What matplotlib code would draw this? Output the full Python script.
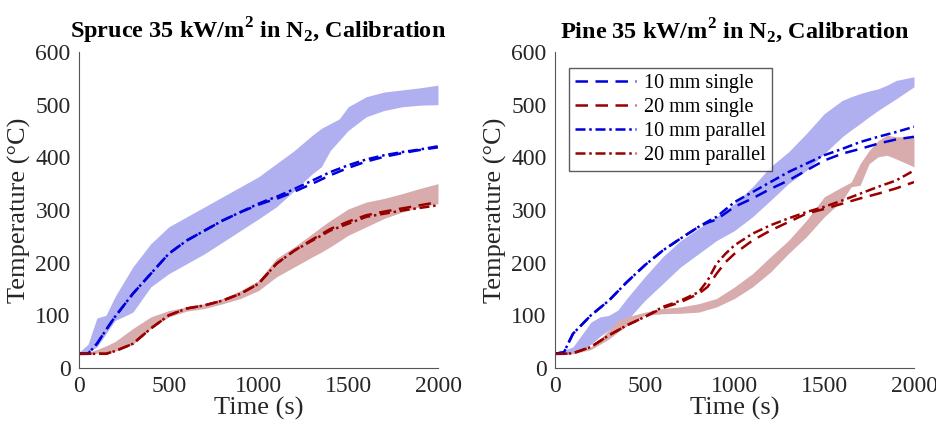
import matplotlib.pyplot as plt

plt.rcParams['font.family'] = ['Liberation Serif', 'DejaVu Serif']
plt.rcParams['mathtext.fontset'] = 'custom'
plt.rcParams['mathtext.rm'] = 'Liberation Serif'
plt.rcParams['mathtext.bf'] = 'Liberation Serif:bold'

# Spruce (left panel)
sp_band_t = [0, 50, 100, 150, 200, 300, 400, 500, 600, 700, 800, 900, 1000, 1100, 1200,
             1300, 1350, 1400, 1450, 1500, 1600, 1700, 1800, 1900, 2000]
sp10_hi = [30, 45, 95, 100, 135, 192, 236, 268, 287, 306, 325, 344, 363, 388, 413,
           442, 455, 464, 473, 496, 515, 524, 528, 532, 537]
sp10_lo = [25, 30, 40, 65, 90, 106, 154, 179, 198, 217, 239, 261, 283, 306, 337,
           369, 382, 413, 432, 451, 477, 489, 496, 499, 500]
sp20_hi = [28, 30, 35, 42, 50, 75, 97, 109, 116, 122, 132, 147, 166, 208, 230,
           255, 268, 280, 291, 302, 315, 322, 331, 341, 350]
sp20_lo = [25, 26, 28, 30, 32, 45, 75, 97, 108, 113, 122, 132, 147, 173, 192,
           211, 220, 230, 241, 252, 268, 284, 296, 306, 312]

sp_line_t = [0, 50, 100, 150, 200, 300, 400, 500, 600, 700, 800, 900, 1000, 1050, 1100,
             1200, 1300, 1400, 1500, 1600, 1700, 1800, 1900, 2000]
sp10_single = [27, 27, 46, 72, 97, 141, 179, 217, 242, 261, 280, 296, 310, 316, 321,
               335, 350, 366, 380, 392, 401, 408, 414, 419]
sp10_par = [27, 27, 46, 72, 97, 141, 179, 217, 242, 261, 280, 296, 312, 319, 325,
            340, 356, 372, 385, 396, 404, 410, 415, 421]
sp20_single = [27, 27, 27, 27, 32, 46, 75, 100, 113, 119, 128, 141, 160, 179, 198,
               223, 244, 264, 278, 290, 297, 303, 309, 315]
sp20_par = [27, 27, 27, 27, 32, 46, 75, 100, 113, 119, 128, 141, 160, 179, 198,
            223, 242, 261, 274, 287, 293, 299, 304, 309]

# Pine (right panel)
pi_band_t = [0, 100, 200, 250, 300, 350, 400, 500, 600, 700, 800, 900, 1000, 1100, 1200,
             1300, 1400, 1500, 1600, 1650, 1700, 1750, 1800, 1850, 1900, 2000]
pi10_hi = [27, 40, 87, 97, 100, 110, 132, 173, 211, 242, 265, 287, 312, 344, 382,
           410, 445, 483, 508, 515, 521, 526, 530, 537, 546, 553]
pi10_lo = [25, 28, 45, 60, 72, 82, 90, 128, 160, 192, 217, 242, 261, 287, 318,
           350, 375, 407, 439, 452, 464, 477, 489, 500, 511, 534]
pi20_hi = [27, 30, 40, 55, 72, 90, 97, 106, 113, 116, 122, 132, 154, 179, 211,
           242, 280, 325, 344, 353, 388, 413, 432, 442, 439, 439]
pi20_lo = [25, 27, 35, 45, 55, 68, 80, 100, 103, 104, 106, 116, 132, 154, 182,
           217, 249, 287, 318, 344, 347, 388, 401, 404, 397, 382]

pi_line_t = [0, 50, 100, 200, 300, 400, 500, 600, 700, 800, 850, 900, 950, 1000, 1100,
             1200, 1300, 1400, 1500, 1600, 1700, 1800, 1900, 2000]
pi10_single = [27, 30, 65, 100, 128, 163, 195, 223, 246, 268, 276, 282, 294, 306, 322,
               340, 356, 375, 394, 407, 416, 426, 434, 439]
pi10_par = [27, 30, 65, 100, 128, 163, 195, 223, 246, 268, 278, 287, 301, 315, 334,
            353, 372, 388, 404, 416, 429, 439, 448, 458]
pi20_single = [27, 27, 28, 40, 62, 81, 97, 114, 125, 141, 154, 179, 201, 217, 242,
               261, 277, 293, 302, 312, 322, 331, 341, 353]
pi20_par = [27, 27, 28, 40, 62, 81, 97, 116, 128, 144, 166, 198, 217, 233, 255,
            271, 284, 296, 306, 318, 331, 344, 356, 375]

blue = '#0000dd'
red = '#990000'
blue_fill = '#b0b0f0'
red_fill = '#d8acac'

fig = plt.figure(figsize=(9.36, 4.29), dpi=100)
ax1 = fig.add_axes([79 / 936, 1 - 368 / 429, 359 / 936, 316 / 429])
ax2 = fig.add_axes([555 / 936, 1 - 368 / 429, 359 / 936, 316 / 429])


def draw_panel(ax, band_t, b10_lo, b10_hi, b20_lo, b20_hi, line_t, s10, s20, p10, p20, title):
    ax.fill_between(band_t, b10_lo, b10_hi, color=blue_fill, lw=0)
    ax.fill_between(band_t, b20_lo, b20_hi, color=red_fill, lw=0)
    ax.plot(line_t, s10, color=blue, lw=1.8, dashes=(5, 3), label='10 mm single')
    ax.plot(line_t, s20, color=red, lw=1.8, dashes=(5, 3), label='20 mm single')
    ax.plot(line_t, p10, color=blue, lw=1.8, dashes=(4, 1.5, 1, 1.5), label='10 mm parallel')
    ax.plot(line_t, p20, color=red, lw=1.8, dashes=(4, 1.5, 1, 1.5), label='20 mm parallel')
    ax.set_xlim(0, 2000)
    ax.set_ylim(0, 600)
    ax.set_xticks([0, 500, 1000, 1500, 2000])
    ax.set_yticks(range(0, 601, 100))
    ax.spines['top'].set_visible(False)
    ax.spines['right'].set_visible(False)
    for s in ('left', 'bottom'):
        ax.spines[s].set_color('#555555')
    ax.tick_params(direction='in', length=0, labelsize=17, colors='#262626', pad=6)
    ax.set_xlabel('Time (s)', fontsize=19, color='#262626', labelpad=0)
    ax.set_ylabel('Temperature (°C)', fontsize=19, color='#262626', labelpad=3)
    ax.set_title(title, fontsize=17.5, fontweight='bold', pad=10)


draw_panel(ax1, sp_band_t, sp10_lo, sp10_hi, sp20_lo, sp20_hi,
           sp_line_t, sp10_single, sp20_single, sp10_par, sp20_par,
           r'Spruce 35 kW/m$^\mathbf{2}$ in N$_\mathbf{2}$, Calibration')
draw_panel(ax2, pi_band_t, pi10_lo, pi10_hi, pi20_lo, pi20_hi,
           pi_line_t, pi10_single, pi20_single, pi10_par, pi20_par,
           r'Pine 35 kW/m$^\mathbf{2}$ in N$_\mathbf{2}$, Calibration')

leg = ax2.legend(loc='upper left', bbox_to_anchor=(0.04, 0.95), fontsize=14.5,
                 frameon=True, fancybox=False, handlelength=3.0, handletextpad=0.4,
                 borderpad=0.3, labelspacing=0.25, borderaxespad=0)
leg.get_frame().set_edgecolor('#333333')
leg.get_frame().set_linewidth(1.0)

fig.savefig('out.png', dpi=100)
